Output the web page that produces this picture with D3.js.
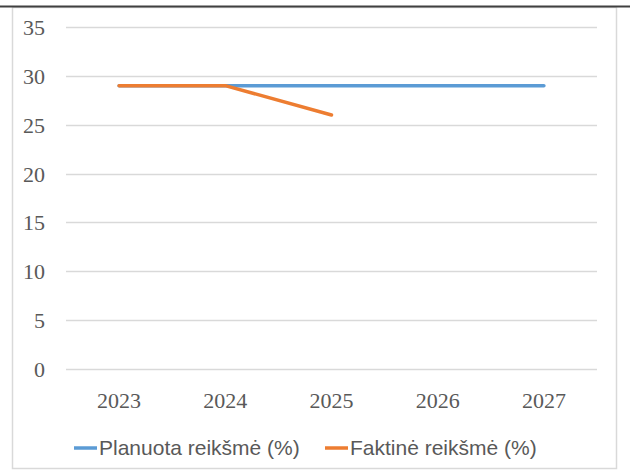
<!DOCTYPE html>
<html>
<head>
<meta charset="utf-8">
<script src="https://cdn.jsdelivr.net/npm/d3@7"></script>
<style>
body{margin:0;background:#fff;}
.ax{font-family:"Times New Roman",Times,"Liberation Serif","DejaVu Serif",serif;font-size:22px;fill:#595959;}
.lg{font-family:"Liberation Sans",sans-serif;font-size:21px;fill:#595959;}
</style>
</head>
<body>
<svg id="chart" width="630" height="473"></svg>
<script>
// data
var years=["2023","2024","2025","2026","2027"];
var planuota=[29,29,29,29,29];
var faktine=[29,29,26];
var yTicks=[0,5,10,15,20,25,30,35];
var seriesNames=["Planuota reikšmė (%)","Faktinė reikšmė (%)"];
var colors=["#5b9bd5","#ed7d31"];

var svg=d3.select("#chart");

//frame round the chart
svg.append("rect")
	.attr("x",12.5).attr("y",7.5)
	.attr("width",604).attr("height",461)
	.style("fill","none")
	.style("stroke","#d9d9d9")
	.style("stroke-width",1.5);

//dark rule along the top
svg.append("line")
	.attr("x1",0).attr("x2",630)
	.attr("y1",6.5).attr("y2",6.5)
	.style("stroke","#404040")
	.style("stroke-width",2);

var x=d3.scaleBand()
	.domain(years)
	.range([66,597]);

var y=d3.scaleLinear()
	.domain([0,35])
	.range([369,27]);

//gridlines
svg.append("g")
	.selectAll("line")
	.data(yTicks)
	.enter()
	.append("line")
	.attr("x1",66).attr("x2",597)
	.attr("y1",function(d){return Math.round(y(d))+0.5;})
	.attr("y2",function(d){return Math.round(y(d))+0.5;})
	.style("stroke","#d9d9d9")
	.style("stroke-width",1.5);

//y labels
svg.append("g")
	.selectAll("text")
	.data(yTicks)
	.enter()
	.append("text")
	.attr("class","ax")
	.attr("x",45)
	.attr("y",function(d){return y(d)+8;})
	.attr("text-anchor","end")
	.text(function(d){return d;});

//x labels
svg.append("g")
	.selectAll("text")
	.data(years)
	.enter()
	.append("text")
	.attr("class","ax")
	.attr("x",function(d){return x(d)+x.bandwidth()/2;})
	.attr("y",408)
	.attr("text-anchor","middle")
	.text(function(d){return d;});

var line=d3.line()
	.x(function(d,i){return x(years[i])+x.bandwidth()/2;})
	.y(function(d){return y(d);});

[planuota,faktine].forEach(function(s,i){
	svg.append("path")
		.datum(s)
		.attr("d",line)
		.style("fill","none")
		.style("stroke",colors[i])
		.style("stroke-width",3.5)
		.style("stroke-linecap","round")
		.style("stroke-linejoin","round");
});

//legend
var legendX=[74,325];
var legend=svg.append("g")
	.selectAll("g")
	.data(seriesNames)
	.enter()
	.append("g")
	.attr("transform",function(d,i){return "translate("+legendX[i]+",448)";});

legend.append("line")
	.attr("x1",0).attr("x2",23)
	.style("stroke",function(d,i){return colors[i];})
	.style("stroke-width",3.5);

legend.append("text")
	.attr("class","lg")
	.attr("x",25)
	.attr("y",7)
	.text(function(d){return d;});
</script>
</body>
</html>
